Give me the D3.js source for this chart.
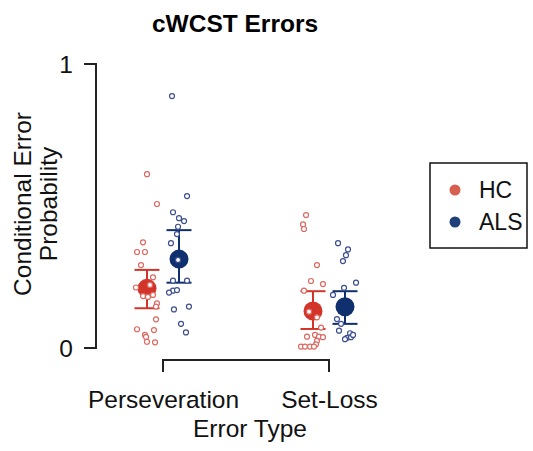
<!DOCTYPE html>
<html><head><meta charset="utf-8">
<script src="https://cdn.jsdelivr.net/npm/d3@7"></script>
<style>body{margin:0;background:#fff}svg{display:block}text{font-family:"Liberation Sans",Arial,sans-serif}</style>
</head><body><svg id="c" width="533" height="451"></svg>
<script>
const title = "cWCST Errors";
const categories = ["Perseveration", "Set-Loss"];
const groups = ["HC", "ALS"];
const yTicks = [0, 1];
const yLabelLines = ["Conditional Error", "Probability"];
const xLabel = "Error Type";

// means and error bar bounds [category][group]
const means = { "Perseveration": { HC: 0.21, ALS: 0.313 }, "Set-Loss": { HC: 0.13, ALS: 0.145 } };
const lower = { "Perseveration": { HC: 0.14, ALS: 0.23 }, "Set-Loss": { HC: 0.067, ALS: 0.085 } };
const upper = { "Perseveration": { HC: 0.275, ALS: 0.415 }, "Set-Loss": { HC: 0.2, ALS: 0.2 } };

// individual values and jitter (fraction of jitter width)
const persHC = [0.612,0.507,0.372,0.338,0.338,0.292,0.249,0.213,0.222,0.183,0.180,0.187,0.157,0.146,0.101,0.066,0.063,0.046,0.039,0.022,0.020];
const persHCJit = [0,0.83,-0.33,-0.83,-0.17,-0.5,0.5,-0.92,0.25,-0.33,0.08,0.5,0.83,0.75,0.75,-0.83,0.58,-0.17,-0.08,0,0.67];
const persALS = [0.887,0.535,0.478,0.457,0.447,0.427,0.401,0.369,0.31,0.237,0.237,0.202,0.204,0.195,0.136,0.146,0.085,0.055];
const persALSJit = [-0.58,0.67,-0.5,0,0.42,-0.08,-0.17,-0.67,-0.08,-0.5,0.67,-0.5,-0.17,-0.83,-0.42,0.83,0.17,0.58];
const setHC = [0.468,0.435,0.419,0.292,0.236,0.225,0.202,0.128,0.108,0.072,0.040,0.046,0.040,0.038,0.025,0.013,0.005,0.005,0.005,0.005];
const setHCJit = [-0.58,-0.83,-0.75,0.33,-0.17,0.83,-0.75,-0.33,0.33,0.67,-0.5,0.17,0.5,0.83,0.33,0.25,-1,-0.67,-0.25,0.08];
const setALS = [0.369,0.347,0.327,0.306,0.23,0.212,0.187,0.102,0.085,0.061,0.052,0.036,0.038,0.031,0.046];
const setALSJit = [-0.58,0.25,0.08,-0.17,0.92,-0.08,-1,-0.67,-0.33,-0.5,0.42,0.17,0.5,0,0.67];

const points = { "Perseveration": { HC: [persHC, persHCJit], ALS: [persALS, persALSJit] },
                 "Set-Loss": { HC: [setHC, setHCJit], ALS: [setALS, setALSJit] } };

const meanColor = { HC: "#d3342a", ALS: "#0f2f6e" };
const pointColor = { HC: "#dc6a62", ALS: "#3d4f8c" };
const legendColor = { HC: "#d6604d", ALS: "#1f3f7a" };

const svg = d3.select("#c");
const x = d3.scalePoint().domain(categories).range([163, 329]);
const xg = d3.scalePoint().domain(groups).range([-16, 16]);
const jit = d3.scaleLinear().domain([-1, 1]).range([-12, 12]);
const y = d3.scaleLinear().domain([0, 1]).range([348, 64]);
const axisCol = "#222";
const fs = 24.5;

// title
svg.append("text").attr("x", 235).attr("y", 31.5).attr("text-anchor", "middle")
  .attr("font-size", 24.5).attr("font-weight", "bold").text(title);

// y axis
const ya = svg.append("g").attr("transform", "translate(96,0)")
  .call(d3.axisLeft(y).tickValues(yTicks).tickFormat(d3.format("d")).tickSize(12).tickPadding(11));
ya.select(".domain").attr("stroke", axisCol).attr("stroke-width", 2).attr("d", `M-12,${y(1)}H0V${y(0)}H-12`);
ya.selectAll(".tick line").remove();
ya.selectAll(".tick text").attr("font-size", fs).attr("fill", "#111").attr("dy", "0.36em")
  .attr("font-family", "Liberation Sans, Arial, sans-serif");

// x axis
const xa = svg.append("g").attr("transform", "translate(0,360)")
  .call(d3.axisBottom(x).tickSize(12).tickPadding(19));
xa.select(".domain").attr("stroke", axisCol).attr("stroke-width", 2)
  .attr("d", `M${x(categories[0])},12V0H${x(categories[1])}V12`);
xa.selectAll(".tick line").remove();
xa.selectAll(".tick text").attr("font-size", fs).attr("fill", "#111").attr("dy", "0.71em")
  .attr("font-family", "Liberation Sans, Arial, sans-serif");

// axis titles
svg.append("text").attr("x", 250).attr("y", 436.5).attr("text-anchor", "middle")
  .attr("font-size", fs).attr("fill", "#111").text(xLabel);
yLabelLines.forEach((t, i) => {
  svg.append("text").attr("transform", `translate(${31 + i * 26},204) rotate(-90)`)
    .attr("text-anchor", "middle").attr("font-size", fs).attr("fill", "#111").text(t);
});

// groups
categories.forEach(cat => {
  groups.forEach(g => {
    const cx = x(cat) + xg(g);
    const col = meanColor[g];
    const eb = svg.append("g").attr("stroke", col).attr("stroke-width", 2);
    eb.append("line").attr("x1", cx).attr("x2", cx).attr("y1", y(lower[cat][g])).attr("y2", y(upper[cat][g]));
    eb.append("line").attr("x1", cx - 12.5).attr("x2", cx + 12.5).attr("y1", y(lower[cat][g])).attr("y2", y(lower[cat][g]));
    eb.append("line").attr("x1", cx - 12.5).attr("x2", cx + 12.5).attr("y1", y(upper[cat][g])).attr("y2", y(upper[cat][g]));
    svg.append("circle").attr("cx", cx).attr("cy", y(means[cat][g])).attr("r", 9.5).attr("fill", col);
    const [vals, js] = points[cat][g];
    svg.append("g").selectAll("circle").data(vals).join("circle")
      .attr("cx", (d, i) => cx + jit(js[i])).attr("cy", d => y(d)).attr("r", 2.5)
      .attr("fill", "#fff").attr("stroke", pointColor[g]).attr("stroke-width", 1.2);
  });
});

// legend
const lg = svg.append("g");
lg.append("rect").attr("x", 430).attr("y", 163).attr("width", 97).attr("height", 85)
  .attr("fill", "none").attr("stroke", "#111").attr("stroke-width", 1.5);
groups.forEach((g, i) => {
  const cy = 190 + i * 32;
  lg.append("circle").attr("cx", 455).attr("cy", cy).attr("r", 5.5).attr("fill", legendColor[g]);
  lg.append("text").attr("x", 479).attr("y", cy).attr("dy", "0.36em").attr("font-size", 23).attr("fill", "#111").text(g);
});
</script></body></html>
